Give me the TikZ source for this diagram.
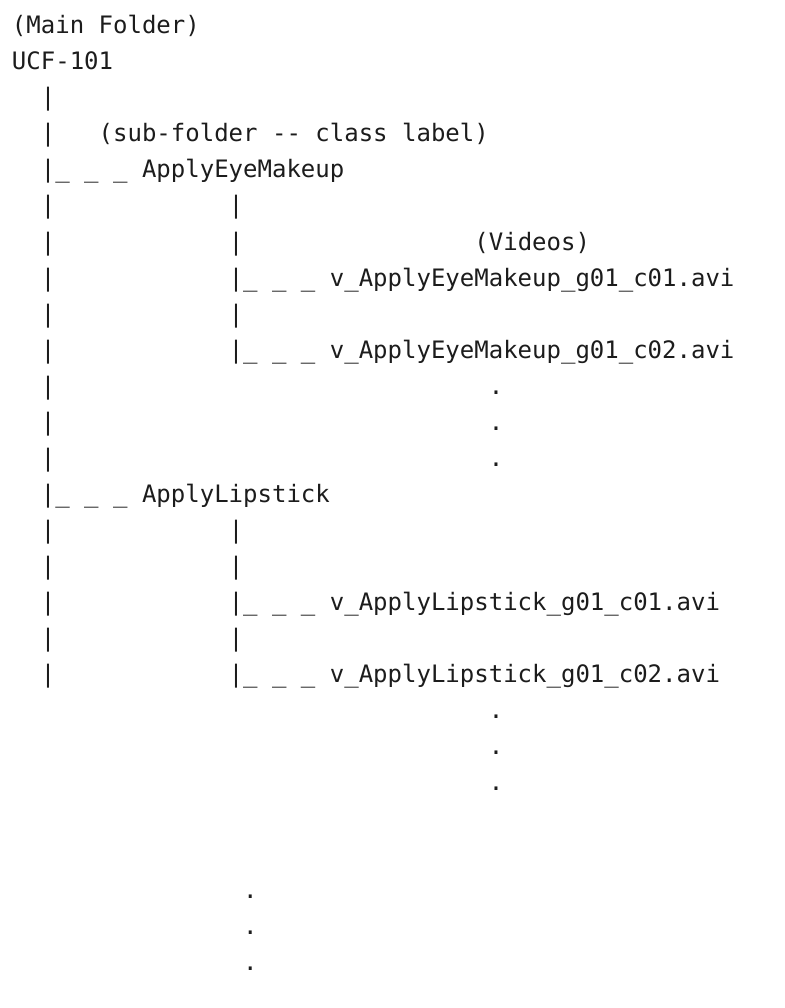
\documentclass[tikz,border=0pt]{standalone}
\usepackage{fontspec}
\setmonofont{DejaVu Sans Mono}
\definecolor{ink}{HTML}{1C1C1C}
\tikzset{
  txt/.style={anchor=base west, inner sep=0pt, outer sep=0pt, font=\ttfamily\fontsize{24}{24}\selectfont, text=ink}
}
\newcommand\tl[4]{\node[txt] (#1) at ({12+#2*14.45},{34+36*#3}) {#4};}
\begin{document}
\begin{tikzpicture}[x=1pt,y=-1pt]
\fill[white] (0,0) rectangle (784,1008);
\useasboundingbox (0,0) rectangle (784,1008);
% root
\tl{mainlabel}{0}{0}{(Main Folder)}
\tl{root}{0}{1}{UCF-101}
% left trunk
\tl{b2}{2}{2}{|}
\tl{b3}{2}{3}{|}
\tl{sublabel}{6}{3}{(sub-folder {-}{-} class label)}
\tl{c1}{2}{4}{|\_ \_ \_ ApplyEyeMakeup}
\foreach \r in {5,...,12,14,15,16,17,18} {\tl{b\r}{2}{\r}{|}}
\tl{c2}{2}{13}{|\_ \_ \_ ApplyLipstick}
% first class branch
\tl{d5}{15}{5}{|}
\tl{d6}{15}{6}{|}
\tl{vidlabel}{32}{6}{(Videos)}
\tl{f1}{15}{7}{|\_ \_ \_ v\_ApplyEyeMakeup\_g01\_c01.avi}
\tl{d8}{15}{8}{|}
\tl{f2}{15}{9}{|\_ \_ \_ v\_ApplyEyeMakeup\_g01\_c02.avi}
\foreach \r in {10,11,12} {\tl{p\r}{33}{\r}{.}}
% second class branch
\tl{d14}{15}{14}{|}
\tl{d15}{15}{15}{|}
\tl{g1}{15}{16}{|\_ \_ \_ v\_ApplyLipstick\_g01\_c01.avi}
\tl{d17}{15}{17}{|}
\tl{g2}{15}{18}{|\_ \_ \_ v\_ApplyLipstick\_g01\_c02.avi}
\foreach \r in {19,20,21} {\tl{q\r}{33}{\r}{.}}
% more classes
\foreach \r in {24,25,26} {\tl{s\r}{16}{\r}{.}}
\end{tikzpicture}
\end{document}
